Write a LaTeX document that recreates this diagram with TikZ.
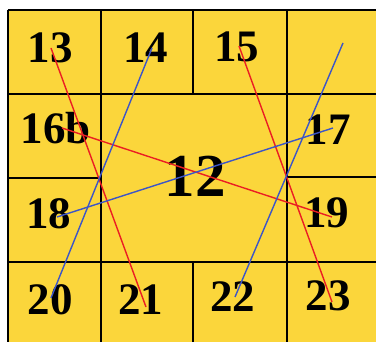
\documentclass[tikz,border=0pt]{standalone}
\usepackage{fontspec}
\setmainfont{Liberation Serif}
\begin{document}
\begin{tikzpicture}[x=1pt,y=-1pt,
  grid/.style={line width=1.8pt,black},
  lbl/.style={font=\fontsize{45}{45}\selectfont\bfseries,inner sep=0pt},
  big/.style={font=\fontsize{61}{61}\selectfont\bfseries,inner sep=0pt},
  redl/.style={draw={rgb,255:red,235;green,30;blue,35},line width=1.4pt},
  bluel/.style={draw={rgb,255:red,60;green,85;blue,200},line width=1.4pt}]
\definecolor{cellyellow}{RGB}{251,214,59}
\useasboundingbox (0,0) rectangle (376,342);
\fill[cellyellow] (8,10) rectangle (380,346);
% grid
\draw[grid] (8,10) -- (376,10);
\draw[grid] (8,10) -- (8,342);
\draw[grid] (101,10) -- (101,342);
\draw[grid] (193,10) -- (193,94);
\draw[grid] (193,262) -- (193,342);
\draw[grid] (287,10) -- (287,342);
\draw[grid] (8,94) -- (376,94);
\draw[grid] (8,178) -- (101,178);
\draw[grid] (287,177) -- (376,177);
\draw[grid] (8,262) -- (376,262);
% labels
\node[lbl] (n13) at (50,48) {13};
\node[lbl] (n14) at (146,48) {14};
\node[lbl] (n15) at (237,47) {15};
\node[lbl] (n16b) at (56,128) {16b};
\node[lbl] (n17) at (328,130) {17};
\node[lbl] (n18) at (49,214) {18};
\node[lbl] (n19) at (327,213) {19};
\node[lbl] (n20) at (50,300) {20};
\node[lbl] (n21) at (141,300) {21};
\node[lbl] (n22) at (233,297) {22};
\node[lbl] (n23) at (328,296) {23};
\node[big] (n12) at (195,176) {12};
% line end points
\coordinate (a13) at (51,48);
\coordinate (a21) at (146,307);
\coordinate (a15) at (239,46);
\coordinate (a23) at (332,302);
\coordinate (a16) at (62,128);
\coordinate (a19) at (332,217);
\coordinate (a14) at (152,48);
\coordinate (a20) at (51,298);
\coordinate (atr) at (343,43);
\coordinate (a22) at (235,297);
\coordinate (a18) at (57,217);
\coordinate (a17) at (333,128);
% connectors
\draw[redl] (a13) -- (a21);
\draw[redl] (a15) -- (a23);
\draw[redl] (a16) -- (a19);
\draw[bluel] (a14) -- (a20);
\draw[bluel] (atr) -- (a22);
\draw[bluel] (a18) -- (a17);
\end{tikzpicture}
\end{document}
